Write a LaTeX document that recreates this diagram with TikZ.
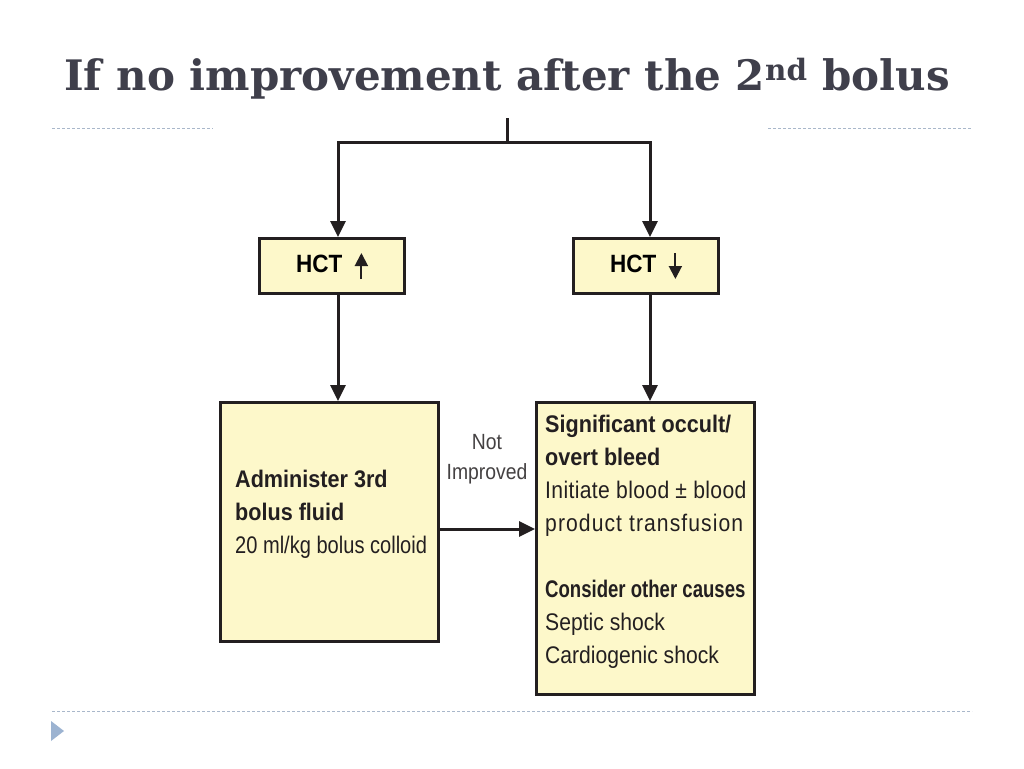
\documentclass[tikz,border=0pt]{standalone}
\usepackage{fontspec}
\setmainfont{Liberation Sans}[FakeStretch=0.88,BoldFeatures={FakeStretch=0.9}]
\newfontfamily\titlefont{DejaVu Serif}
\usetikzlibrary{arrows.meta}
\definecolor{boxfill}{HTML}{FDF8CA}
\definecolor{inkgray}{HTML}{231F20}
\definecolor{titlegray}{HTML}{3F3F4B}
\definecolor{rulegray}{HTML}{A9B7CA}
\definecolor{markblue}{HTML}{9CB3D1}
\newcommand\hctup{\tikz[baseline=0pt,x=1pt,y=1pt]\draw[inkgray,line width=2pt,-{Triangle[length=13pt,width=13pt]}] (0,-7)--(0,19);}
\newcommand\hctdown{\tikz[baseline=0pt,x=1pt,y=1pt]\draw[inkgray,line width=2pt,-{Triangle[length=13pt,width=13pt]}] (0,19)--(0,-7);}
\begin{document}
\begin{tikzpicture}[x=1pt,y=-1pt,>={Triangle[length=16pt,width=15pt]},
	box/.style={draw=inkgray,fill=boxfill,line width=3pt,inner sep=0pt},
	boxtext/.style={anchor=north west,inner sep=0pt,align=left,text=inkgray,font=\fontsize{24}{33}\selectfont},
	link/.style={draw=inkgray,line width=3pt},
	rule/.style={draw=rulegray,line width=1pt,dash pattern=on 3pt off 2pt}]
	\useasboundingbox[fill=white] (0,0) rectangle (1024,768);
	% title and slide rules
	\node[anchor=base,text=titlegray,font=\titlefont\bfseries\fontsize{42}{46}\selectfont] (title) at (507,90) {If no improvement after the 2\textsuperscript{nd} bolus};
	\draw[rule] (52,128)--(213,128);
	\draw[rule] (768,128)--(972,128);
	\draw[rule] (52,711)--(972,711);
	\fill[markblue] (51,721)--(64,731)--(51,741)--cycle;
	% boxes
	\node[box,minimum width=145pt,minimum height=55pt] (hctup) at (332,266) {\fontsize{25}{30}\selectfont\bfseries HCT\ \ \hctup};
	\node[box,minimum width=145pt,minimum height=55pt] (hctdown) at (646,266) {\fontsize{25}{30}\selectfont\bfseries HCT\ \ \hctdown};
	\node[box,minimum width=218pt,minimum height=239pt] (fluid) at (329.5,522) {};
	\node[box,minimum width=218pt,minimum height=292pt] (bleed) at (645.5,548.5) {};
	\node[boxtext] (fluidtxt) at ([shift={(16,69)}]fluid.north west) {\bfseries Administer 3rd\\\bfseries bolus fluid\\\scalebox{0.95}[1]{20 ml/kg bolus colloid}};
	\node[boxtext] (bleedtxt) at ([shift={(10,14)}]bleed.north west) {\bfseries Significant occult/\\\bfseries overt bleed\\\addfontfeature{LetterSpace=1.5}Initiate blood ± blood\\\addfontfeature{LetterSpace=4.5}product transfusion\\[33pt]\scalebox{0.86}[1]{\bfseries Consider other causes}\\Septic shock\\Cardiogenic shock};
	% connectors
	\coordinate (top) at (507,118);
	\coordinate (split) at (507,142);
	\draw[link] (top)--(split);
	\draw[link,->] (split)-|([xshift=6pt]hctup.north);
	\draw[link,->] (split)-|([xshift=4pt]hctdown.north);
	\draw[link,->] ([xshift=6pt]hctup.south)--([xshift=6pt]hctup.south |- fluid.north);
	\draw[link,->] ([xshift=4pt]hctdown.south)--([xshift=4pt]hctdown.south |- bleed.north);
	\coordinate (mid) at ([yshift=-7pt]fluid.east);
	\draw[link,->] (mid)--(mid -| bleed.west);
	\node[align=center,text=inkgray!85,font=\fontsize{22}{30}\selectfont] (notimp) at (487,459) {Not\\Improved};
\end{tikzpicture}
\end{document}
